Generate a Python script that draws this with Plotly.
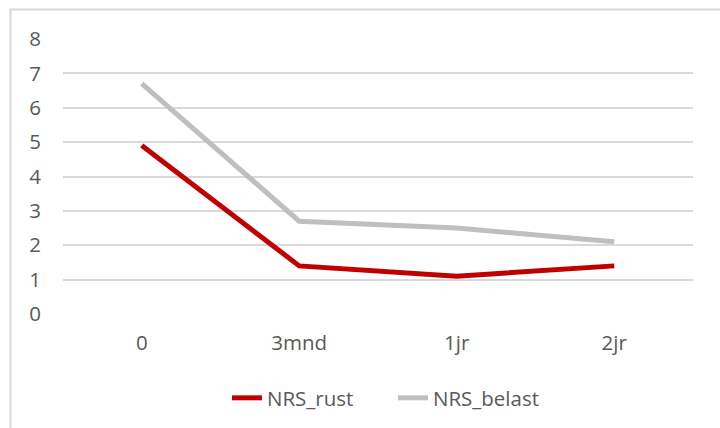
import plotly.graph_objects as go

categories = ["0", "3mnd", "1jr", "2jr"]
nrs_rust = [4.9, 1.4, 1.1, 1.4]
nrs_belast = [6.7, 2.7, 2.5, 2.1]
y_ticks = [0, 1, 2, 3, 4, 5, 6, 7, 8]

W, H = 720, 428
L, R, T, B = 63, 27, 39, 114
pw, ph = W - L - R, H - T - B

font_family = "Open Sans"
txt = "#595959"
fs = 20.5

fig = go.Figure()
fig.add_trace(go.Scatter(x=categories, y=nrs_rust, name="NRS_rust", mode="lines",
                         line=dict(color="#c00000", width=5)))
fig.add_trace(go.Scatter(x=categories, y=nrs_belast, name="NRS_belast", mode="lines",
                         line=dict(color="#bfbfbf", width=5)))

def px_x(p):
    return (p - L) / pw

def px_y(p):
    return (H - B - p) / ph

fig.update_layout(
    width=W, height=H,
    margin=dict(l=L, r=R, t=T, b=B, pad=0, autoexpand=False),
    paper_bgcolor="white", plot_bgcolor="white",
    font=dict(family=font_family, size=fs, color=txt),
    showlegend=True,
    legend=dict(orientation="h", x=px_x(227), xanchor="left", y=px_y(398), yanchor="middle",
                font=dict(size=fs, color=txt), entrywidth=121, entrywidthmode="pixels",
                traceorder="normal", bgcolor="rgba(0,0,0,0)"),
    xaxis=dict(type="category", showgrid=False, zeroline=False, showline=False,
               ticks="", ticklabelstandoff=14, range=[-0.5, 3.5],
               tickfont=dict(size=fs, color=txt)),
    yaxis=dict(range=[0, 8], tickvals=y_ticks, showgrid=True, gridcolor="#d9d9d9",
               gridwidth=1.5, zeroline=False, showline=False, ticks="",
               ticklabelstandoff=21, tickfont=dict(size=fs, color=txt)),
    shapes=[dict(type="rect", xref="paper", yref="paper",
                 x0=px_x(10.5), x1=px_x(730), y0=px_y(9.5), y1=px_y(440),
                 line=dict(color="#d9d9d9", width=2), fillcolor="rgba(0,0,0,0)",
                 layer="below")],
)

fig.write_html("out.html", config={"displayModeBar": False},
               post_script="document.body.style.margin='0';document.body.style.overflow='hidden';")
